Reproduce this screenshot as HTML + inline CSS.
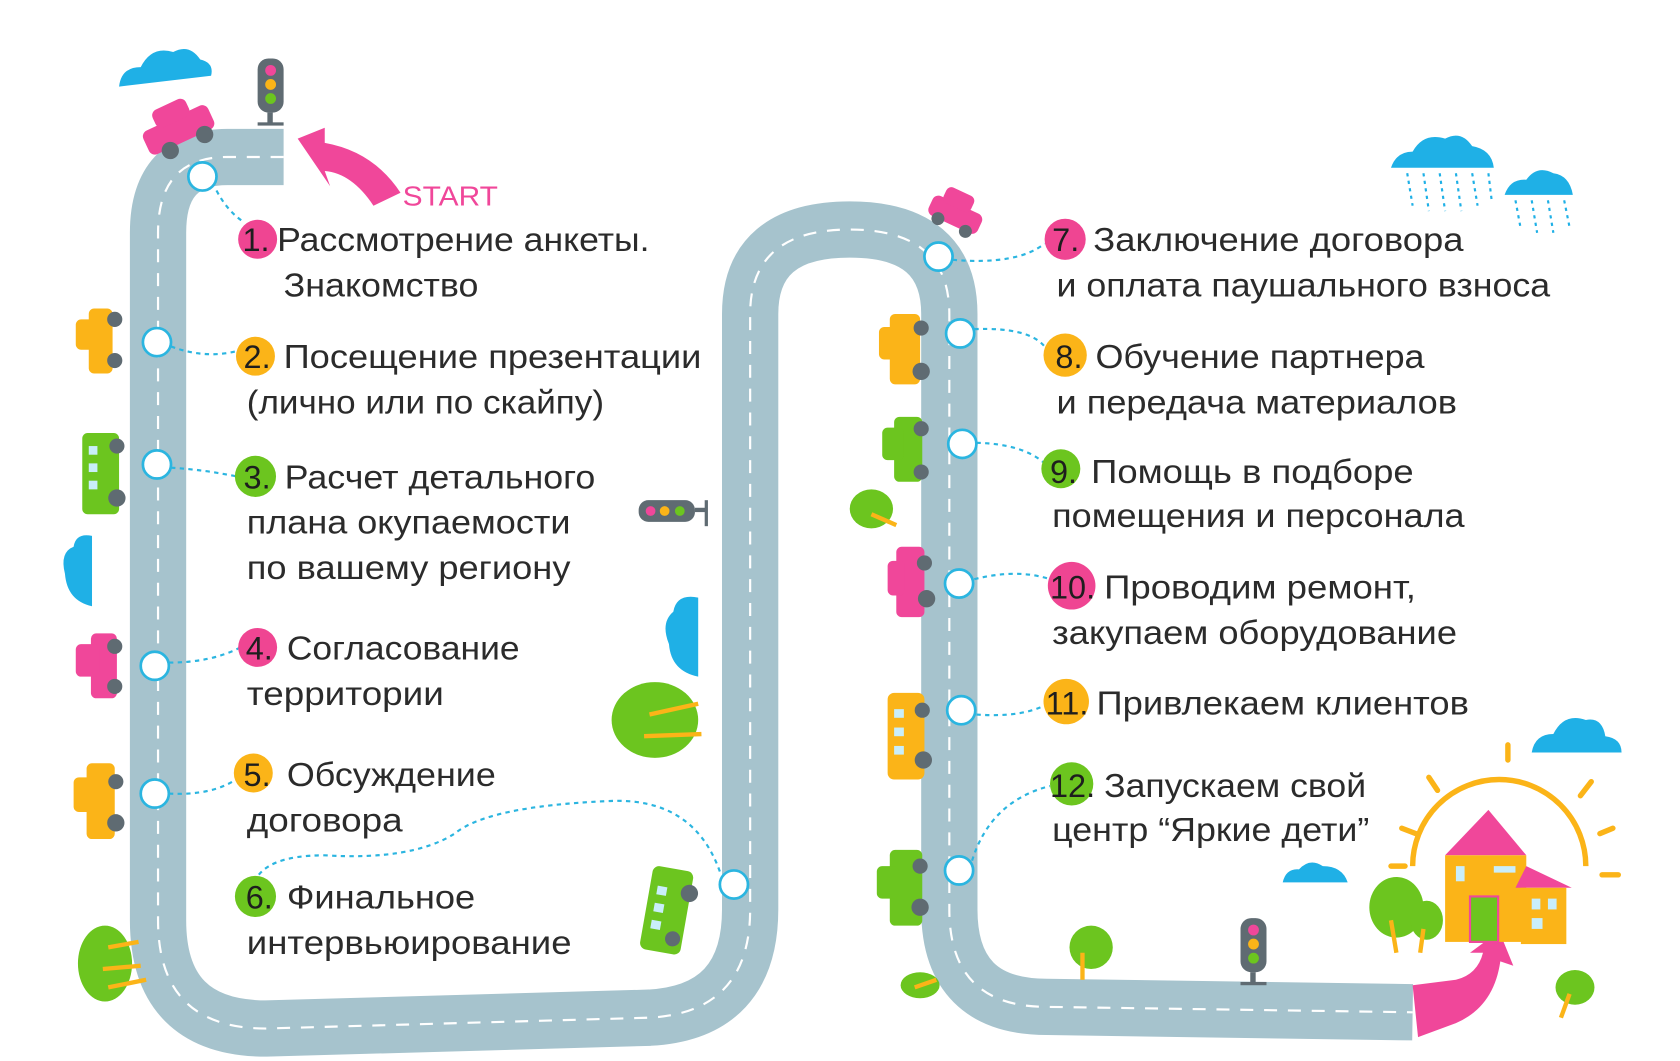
<!DOCTYPE html>
<html><head><meta charset="utf-8"><style>
html,body{margin:0;padding:0;background:#fff;}
svg{display:block}
.t{font-family:"Liberation Sans","DejaVu Sans",sans-serif;font-size:31px;fill:#2b2b2b;}
.n{font-family:"Liberation Sans","DejaVu Sans",sans-serif;font-size:30px;fill:#1e1e1e;}
.c{fill:#fff;stroke:#2bb5e0;stroke-width:2.5}
.d{fill:none;stroke:#2bb5e0;stroke-width:2;stroke-dasharray:4 4}
.w{fill:#5f6b72}
</style></head><body>
<svg width="1680" height="1061" viewBox="0 0 1552 980" preserveAspectRatio="none" xmlns="http://www.w3.org/2000/svg">
<rect width="1552" height="980" fill="#fff"/>
<!-- road -->
<path d="M262 145 L210 145 Q146 145 146 215 L146 850 Q146 950 246 950 L600 940 Q693 935 693 840 L693 290 Q693 212 785 212 Q877 212 877 290 L877 840 Q877 930 967 930 L1305 935" fill="none" stroke="#a6c3cd" stroke-width="52"/>
<path d="M262 145 L210 145 Q146 145 146 215 L146 850 Q146 950 246 950 L600 940 Q693 935 693 840 L693 290 Q693 212 785 212 Q877 212 877 290 L877 840 Q877 930 967 930 L1305 935" fill="none" stroke="#fff" stroke-width="2" stroke-dasharray="12 10"/>
<!-- end pink arrow -->
<path d="M1305 910 L1345 905 Q1365 900 1370 880 L1358 880 L1385 860 L1398 892 L1386 888 Q1380 930 1345 945 L1310 958 Z" fill="#f0479a"/>
<!-- start arrow -->
<path d="M275 128 L300 118 L300 132 Q345 140 370 178 L345 190 Q325 160 300 158 L305 172 Z" fill="#f0479a"/>
<text x="372" y="190" font-family="Liberation Sans,sans-serif" font-size="26" fill="#f0479a" textLength="88" lengthAdjust="spacingAndGlyphs">START</text>
<!-- connectors -->
<path class="d" d="M200 176 Q210 195 225 205"/>
<path class="d" d="M158 320 Q190 332 220 324"/>
<path class="d" d="M158 432 Q190 434 218 440"/>
<path class="d" d="M156 612 Q195 612 222 598"/>
<path class="d" d="M156 733 Q195 735 218 720"/>
<path class="d" d="M665 805 Q640 735 560 740 Q450 745 420 770 Q380 795 300 790 Q245 790 235 815"/>
<path class="d" d="M880 240 Q940 245 965 225"/>
<path class="d" d="M900 304 Q950 302 965 320"/>
<path class="d" d="M902 409 Q945 410 965 428"/>
<path class="d" d="M900 535 Q940 525 970 535"/>
<path class="d" d="M902 660 Q945 663 968 650"/>
<path class="d" d="M898 795 Q915 740 970 726"/>
<!-- circles -->
<circle class="c" cx="187" cy="163" r="13"/><circle class="c" cx="145" cy="316" r="13"/><circle class="c" cx="145" cy="429" r="13"/><circle class="c" cx="143" cy="615" r="13"/><circle class="c" cx="143" cy="733" r="13"/><circle class="c" cx="678" cy="817" r="13"/>
<circle class="c" cx="867" cy="237" r="13"/><circle class="c" cx="887" cy="308" r="13"/><circle class="c" cx="889" cy="410" r="13"/><circle class="c" cx="886" cy="539" r="13"/><circle class="c" cx="888" cy="656" r="13"/><circle class="c" cx="886" cy="804" r="13"/>
<!-- badges -->
<g>
<circle cx="238" cy="221" r="18" fill="#ef4592"/><circle cx="236" cy="329" r="18" fill="#fbb418"/><circle cx="236" cy="440" r="19" fill="#6cc51f"/><circle cx="238" cy="598" r="18" fill="#ef4592"/><circle cx="234" cy="714" r="18" fill="#fbb418"/><circle cx="236" cy="828" r="19" fill="#6cc51f"/>
<circle cx="984" cy="221" r="19" fill="#ef4592"/><circle cx="984" cy="328" r="20" fill="#fbb418"/><circle cx="980" cy="433" r="18" fill="#6cc51f"/><circle cx="990" cy="541" r="22" fill="#ef4592"/><circle cx="985" cy="648" r="21" fill="#fbb418"/><circle cx="990" cy="724" r="20" fill="#6cc51f"/>
</g>
<g class="n">
<text x="224" y="232">1.</text><text x="225" y="340">2.</text><text x="225" y="451">3.</text><text x="227" y="609">4.</text><text x="225" y="726">5.</text><text x="227" y="839">6.</text>
<text x="972" y="232">7.</text><text x="975" y="340">8.</text><text x="970" y="446">9.</text><text x="970" y="553">10.</text><text x="966" y="660">11.</text><text x="970" y="736">12.</text>
</g>
<g class="t">
<text x="256" y="232" textLength="344" lengthAdjust="spacingAndGlyphs">Рассмотрение анкеты.</text>
<text x="262" y="274" textLength="180" lengthAdjust="spacingAndGlyphs">Знакомство</text>
<text x="262" y="340" textLength="386" lengthAdjust="spacingAndGlyphs">Посещение презентации</text>
<text x="228" y="382" textLength="330" lengthAdjust="spacingAndGlyphs">(лично или по скайпу)</text>
<text x="263" y="451" textLength="287" lengthAdjust="spacingAndGlyphs">Расчет детального</text>
<text x="228" y="493" textLength="299" lengthAdjust="spacingAndGlyphs">плана окупаемости</text>
<text x="228" y="535" textLength="299" lengthAdjust="spacingAndGlyphs">по вашему региону</text>
<text x="265" y="609" textLength="215" lengthAdjust="spacingAndGlyphs">Согласование</text>
<text x="228" y="651" textLength="182" lengthAdjust="spacingAndGlyphs">территории</text>
<text x="265" y="726" textLength="193" lengthAdjust="spacingAndGlyphs">Обсуждение</text>
<text x="228" y="768" textLength="144" lengthAdjust="spacingAndGlyphs">договора</text>
<text x="265" y="839" textLength="174" lengthAdjust="spacingAndGlyphs">Финальное</text>
<text x="228" y="881" textLength="300" lengthAdjust="spacingAndGlyphs">интервьюирование</text>
<text x="1010" y="232" textLength="342" lengthAdjust="spacingAndGlyphs">Заключение договора</text>
<text x="976" y="274" textLength="456" lengthAdjust="spacingAndGlyphs">и оплата паушального взноса</text>
<text x="1012" y="340" textLength="304" lengthAdjust="spacingAndGlyphs">Обучение партнера</text>
<text x="976" y="382" textLength="370" lengthAdjust="spacingAndGlyphs">и передача материалов</text>
<text x="1008" y="446" textLength="298" lengthAdjust="spacingAndGlyphs">Помощь в подборе</text>
<text x="972" y="487" textLength="381" lengthAdjust="spacingAndGlyphs">помещения и персонала</text>
<text x="1020" y="553" textLength="288" lengthAdjust="spacingAndGlyphs">Проводим ремонт,</text>
<text x="972" y="595" textLength="374" lengthAdjust="spacingAndGlyphs">закупаем оборудование</text>
<text x="1013" y="660" textLength="344" lengthAdjust="spacingAndGlyphs">Привлекаем клиентов</text>
<text x="1020" y="736" textLength="242" lengthAdjust="spacingAndGlyphs">Запускаем свой</text>
<text x="972" y="777" textLength="293" lengthAdjust="spacingAndGlyphs">центр “Яркие дети”</text>
</g>
<!-- clouds -->
<g fill="#1fb0e6">
<path d="M110 80 Q112 62 130 62 Q140 42 160 48 Q175 40 185 55 Q198 58 195 70 Z"/>
<path d="M85 560 Q62 555 60 530 Q55 510 68 505 Q70 492 85 495 Z"/>
<path d="M645 625 Q620 620 618 595 Q610 575 622 565 Q625 548 645 552 Z"/>
<path d="M1285 155 Q1290 140 1305 140 Q1315 122 1335 128 Q1350 120 1360 135 Q1378 138 1380 155 Z"/>
<path d="M1390 180 Q1395 165 1410 166 Q1420 152 1435 160 Q1450 162 1453 180 Z"/>
<path d="M1415 695 Q1418 678 1435 678 Q1445 658 1465 665 Q1480 662 1483 680 Q1498 682 1498 695 Z"/>
<path d="M1185 815 Q1188 802 1200 803 Q1210 792 1222 800 Q1240 800 1245 815 Z"/>
</g>
<g stroke="#1fb0e6" stroke-width="2" stroke-dasharray="3 4">
<path d="M1300 160 L1305 190 M1315 160 L1320 195 M1330 160 L1335 195 M1345 160 L1350 195 M1360 160 L1365 190 M1375 160 L1378 185 M1400 185 L1405 212 M1415 185 L1420 215 M1430 185 L1435 215 M1445 185 L1450 210"/>
</g>
<!-- traffic lights -->
<g><rect x="238" y="54" width="24" height="50" rx="10" fill="#5f6b72"/><circle cx="250" cy="65" r="5" fill="#f0479a"/><circle cx="250" cy="78" r="5" fill="#fbb418"/><circle cx="250" cy="91" r="5" fill="#6cc51f"/><rect x="247" y="104" width="5" height="10" fill="#5f6b72"/><rect x="238" y="113" width="24" height="3" fill="#5f6b72"/></g>
<g><rect x="590" y="462" width="52" height="20" rx="9" fill="#5f6b72"/><circle cx="601" cy="472" r="4.5" fill="#f0479a"/><circle cx="614" cy="472" r="4.5" fill="#fbb418"/><circle cx="628" cy="472" r="4.5" fill="#6cc51f"/><rect x="642" y="469" width="10" height="4" fill="#5f6b72"/><rect x="651" y="462" width="3" height="24" fill="#5f6b72"/></g>
<g><rect x="1146" y="848" width="24" height="50" rx="10" fill="#5f6b72"/><circle cx="1158" cy="859" r="5" fill="#f0479a"/><circle cx="1158" cy="872" r="5" fill="#fbb418"/><circle cx="1158" cy="885" r="5" fill="#6cc51f"/><rect x="1155" y="898" width="5" height="10" fill="#5f6b72"/><rect x="1146" y="907" width="24" height="3" fill="#5f6b72"/></g>
<!-- cars -->
<g transform="rotate(-25 165 120)"><rect x="132" y="108" width="66" height="24" rx="6" fill="#f0479a"/><rect x="148" y="94" width="34" height="18" rx="6" fill="#f0479a"/><circle cx="150" cy="134" r="8" class="w"/><circle cx="185" cy="134" r="8" class="w"/></g>
<g transform="rotate(25 882 197)"><rect x="858" y="188" width="50" height="20" rx="6" fill="#f0479a"/><rect x="866" y="176" width="28" height="16" rx="5" fill="#f0479a"/><circle cx="870" cy="208" r="6" class="w"/><circle cx="898" cy="208" r="6" class="w"/></g>
<g><rect x="82" y="285" width="22" height="60" rx="5" fill="#fbb418"/><rect x="70" y="295" width="20" height="28" rx="5" fill="#fbb418"/><circle cx="106" cy="295" r="7" class="w"/><circle cx="106" cy="333" r="7" class="w"/></g>
<g><rect x="76" y="400" width="34" height="75" rx="5" fill="#6cc51f"/><rect x="82" y="412" width="8" height="8" fill="#c9eefa"/><rect x="82" y="428" width="8" height="8" fill="#c9eefa"/><rect x="82" y="444" width="8" height="8" fill="#c9eefa"/><circle cx="108" cy="412" r="7" class="w"/><circle cx="108" cy="460" r="8" class="w"/></g>
<g><rect x="84" y="585" width="24" height="60" rx="5" fill="#f0479a"/><rect x="70" y="595" width="22" height="30" rx="5" fill="#f0479a"/><circle cx="106" cy="597" r="7" class="w"/><circle cx="106" cy="634" r="7" class="w"/></g>
<g><rect x="80" y="705" width="26" height="70" rx="5" fill="#fbb418"/><rect x="68" y="718" width="20" height="32" rx="5" fill="#fbb418"/><circle cx="107" cy="722" r="7" class="w"/><circle cx="107" cy="760" r="8" class="w"/></g>
<g transform="rotate(10 617 840)"><rect x="597" y="802" width="38" height="78" rx="6" fill="#6cc51f"/><rect x="604" y="820" width="9" height="8" fill="#c9eefa"/><rect x="604" y="836" width="9" height="8" fill="#c9eefa"/><rect x="604" y="852" width="9" height="8" fill="#c9eefa"/><circle cx="634" cy="822" r="8" class="w"/><circle cx="626" cy="866" r="7" class="w"/></g>
<g><rect x="822" y="290" width="28" height="65" rx="5" fill="#fbb418"/><rect x="812" y="302" width="20" height="30" rx="5" fill="#fbb418"/><circle cx="851" cy="303" r="7" class="w"/><circle cx="851" cy="343" r="8" class="w"/></g>
<g><rect x="826" y="385" width="26" height="60" rx="5" fill="#6cc51f"/><rect x="815" y="395" width="20" height="30" rx="5" fill="#6cc51f"/><circle cx="851" cy="396" r="7" class="w"/><circle cx="851" cy="436" r="7" class="w"/></g>
<g><rect x="828" y="505" width="26" height="65" rx="5" fill="#f0479a"/><rect x="820" y="518" width="16" height="32" rx="5" fill="#f0479a"/><circle cx="854" cy="520" r="7" class="w"/><circle cx="856" cy="553" r="8" class="w"/></g>
<g><rect x="820" y="640" width="34" height="80" rx="6" fill="#fbb418"/><rect x="826" y="655" width="9" height="8" fill="#c9eefa"/><rect x="826" y="672" width="9" height="8" fill="#c9eefa"/><rect x="826" y="689" width="9" height="8" fill="#c9eefa"/><circle cx="852" cy="656" r="7" class="w"/><circle cx="853" cy="702" r="8" class="w"/></g>
<g><rect x="822" y="785" width="30" height="70" rx="5" fill="#6cc51f"/><rect x="810" y="800" width="20" height="30" rx="5" fill="#6cc51f"/><circle cx="850" cy="800" r="7" class="w"/><circle cx="850" cy="838" r="8" class="w"/></g>
<!-- trees -->
<g fill="#6cc51f"><ellipse cx="97" cy="890" rx="25" ry="35"/><ellipse cx="605" cy="665" rx="40" ry="35"/><ellipse cx="805" cy="470" rx="20" ry="18"/><ellipse cx="850" cy="910" rx="18" ry="12"/><ellipse cx="1008" cy="875" rx="20" ry="20"/><ellipse cx="1290" cy="838" rx="25" ry="28"/><ellipse cx="1318" cy="850" rx="15" ry="18"/><ellipse cx="1455" cy="912" rx="18" ry="16"/></g>
<g stroke="#fbb418" stroke-width="4" fill="none"><path d="M100 875 L128 870 M95 895 L130 892 M100 912 L135 905"/><path d="M600 660 L645 650 M595 680 L648 678"/><path d="M805 475 L828 485"/><path d="M1000 880 L1000 905"/><path d="M1285 850 L1290 880 M1315 858 L1312 880"/><path d="M1450 918 L1442 940"/><path d="M845 912 L865 905"/></g>
<!-- sun -->
<path d="M1305 800 A80 80 0 0 1 1465 800" fill="none" stroke="#fbb418" stroke-width="5"/>
<g stroke="#fbb418" stroke-width="5" stroke-linecap="round"><path d="M1393 688 L1393 702 M1320 718 L1328 730 M1470 722 L1460 735 M1295 765 L1308 770 M1490 765 L1478 770 M1285 800 L1298 800 M1495 808 L1480 808"/></g>
<!-- house -->
<path d="M1335 790 L1375 748 L1410 790 Z" fill="#f0479a"/>
<rect x="1335" y="790" width="75" height="80" fill="#fbb418"/>
<path d="M1400 820 L1410 800 L1452 820 Z" fill="#f0479a"/>
<rect x="1405" y="820" width="42" height="52" fill="#fbb418"/>
<rect x="1358" y="828" width="26" height="42" fill="#6cc51f" stroke="#f0479a" stroke-width="2"/>
<rect x="1345" y="800" width="8" height="14" fill="#c9eefa"/><rect x="1380" y="800" width="20" height="6" fill="#c9eefa"/><rect x="1415" y="830" width="8" height="10" fill="#c9eefa"/><rect x="1430" y="830" width="8" height="10" fill="#c9eefa"/><rect x="1415" y="848" width="10" height="10" fill="#c9eefa"/>
</svg>
</body></html>
